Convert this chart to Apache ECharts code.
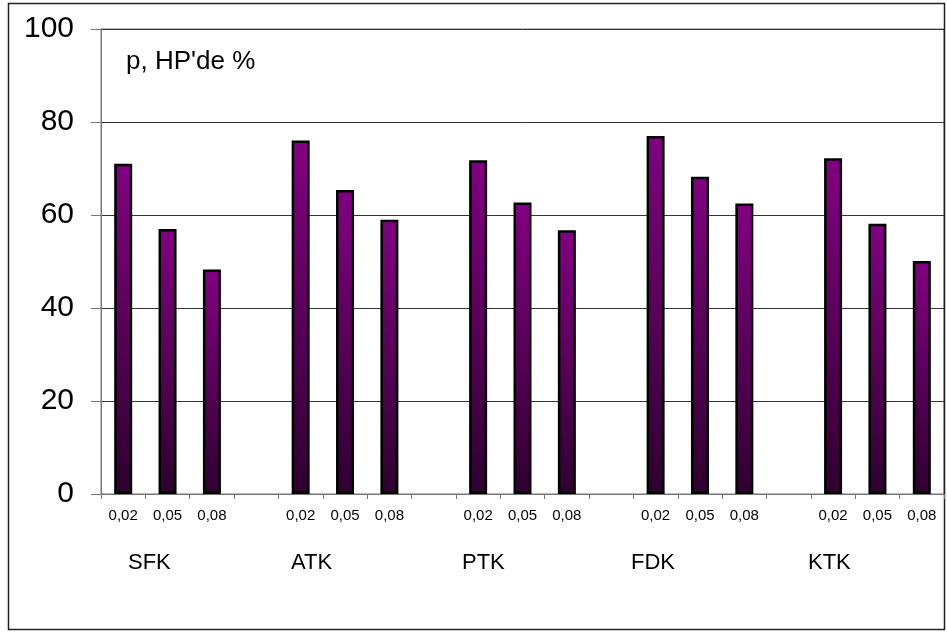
<!DOCTYPE html>
<html>
<head>
<meta charset="utf-8">
<style>
  html, body { margin: 0; padding: 0; background: #fff; }
  #chart { width: 947px; height: 632px; }
</style>
<script src="https://cdn.jsdelivr.net/npm/echarts@6/dist/echarts.min.js"></script>
</head>
<body>
<div id="chart"></div>
<script>
// Groups of samples and the concentration levels measured in each
const groups = ['SFK', 'ATK', 'PTK', 'FDK', 'KTK'];
const levels = ['0,02', '0,05', '0,08'];

// p, HP'de % for each group, one value per concentration level
const sfkValues = [71.0, 57.0, 48.3];
const atkValues = [76.0, 65.4, 59.0];
const ptkValues = [71.8, 62.7, 56.7];
const fdkValues = [77.0, 68.2, 62.5];
const ktkValues = [72.2, 58.1, 50.1];

const yTicks = [0, 20, 40, 60, 80, 100];

// Left edge (px) of each group caption below the level labels
const groupLabelLeft = [128, 291, 462, 631, 808];

const groupValues = [sfkValues, atkValues, ptkValues, fdkValues, ktkValues];

// Flatten into one category axis, with an empty slot between groups
const categories = [];
const values = [];
groups.forEach((g, gi) => {
  levels.forEach((lv, li) => {
    categories.push(lv);
    values.push(groupValues[gi][li]);
  });
  if (gi < groups.length - 1) {
    categories.push('');
    values.push('-');
  }
});

const FONT = '"Liberation Sans", Arial, sans-serif';
const chart = echarts.init(document.getElementById('chart'), null, { renderer: 'canvas' });

const barFill = new echarts.graphic.LinearGradient(0, 0, 0, 1, [
  { offset: 0, color: '#820082' },
  { offset: 1, color: '#2e002e' }
]);

chart.setOption({
  animation: false,
  backgroundColor: '#ffffff',
  grid: { left: 101, right: 3, top: 29, bottom: 138, containLabel: false,
          show: true, borderColor: '#777', borderWidth: 1 },
  xAxis: {
    type: 'category',
    data: categories,
    boundaryGap: true,
    axisLine: { show: true, lineStyle: { color: '#777', width: 1 } },
    axisTick: { show: true, alignWithLabel: false, length: 5, inside: false,
                interval: 0, lineStyle: { color: '#777' } },
    axisLabel: { interval: 0, margin: 14, color: '#000', fontFamily: FONT, fontSize: 15 },
    splitLine: { show: false }
  },
  yAxis: {
    type: 'value',
    min: yTicks[0],
    max: yTicks[yTicks.length - 1],
    interval: yTicks[1] - yTicks[0],
    axisLine: { show: true, lineStyle: { color: '#777', width: 1 } },
    axisTick: { show: true, length: 10, lineStyle: { color: '#777' } },
    axisLabel: { margin: 27, color: '#000', fontFamily: FONT, fontSize: 30 },
    splitLine: { show: true, lineStyle: { color: '#333', width: 1 } }
  },
  series: [{
    type: 'bar',
    data: values,
    barWidth: 18,
    itemStyle: { color: barFill, borderColor: '#000', borderWidth: 2.5 }
  }]
});

// Captions: axis unit inside the plot, group names below the level labels,
// and the frame around the whole chart
const groupY = 563;
const graphics = [
  { type: 'rect', shape: { x: 8.5, y: 3.5, width: 936, height: 626 },
    style: { fill: null, stroke: '#222', lineWidth: 1.5 }, z: 0, silent: true },
  { type: 'text', left: 126, top: 49,
    style: { text: "p, HP'de %", font: '26px ' + FONT, fill: '#000' } }
];
groups.forEach((g, gi) => {
  graphics.push({
    type: 'text',
    x: groupLabelLeft[gi], y: groupY,
    style: { text: g, font: '22px ' + FONT, fill: '#000',
             textAlign: 'left', textVerticalAlign: 'middle' }
  });
});
chart.setOption({ graphic: graphics });
</script>
</body>
</html>
